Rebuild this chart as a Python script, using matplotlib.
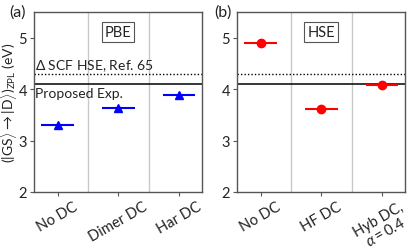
import matplotlib
matplotlib.use("Agg")
import matplotlib.pyplot as plt

plt.rcParams['font.family'] = ['Lato', 'DejaVu Sans']
plt.rcParams['mathtext.fontset'] = 'custom'
plt.rcParams['mathtext.rm'] = 'Lato'
plt.rcParams['mathtext.it'] = 'Lato:italic'
plt.rcParams['mathtext.sf'] = 'Lato'

cats_a = ["No DC", "Dimer DC", "Har DC"]
vals_a = [3.30, 3.63, 3.89]
cats_b = ["No DC", "HF DC", "Hyb DC,\n$\\alpha = 0.4$"]
vals_b = [4.89, 3.62, 4.08]
exp_val = 4.10
dscf_val = 4.30
panel_titles = ["PBE", "HSE"]
panel_labels = ["(a)", "(b)"]

fig = plt.figure(figsize=(4.15, 2.53), dpi=100)
W, H = 415, 253
axes = [fig.add_axes([34/W, 1-193/H, 168/W, 180/H]),
        fig.add_axes([237/W, 1-193/H, 168/W, 180/H])]

spine_c = '#555555'
txt_c = '#222222'
for i, ax in enumerate(axes):
    cats = cats_a if i == 0 else cats_b
    vals = vals_a if i == 0 else vals_b
    col = 'blue' if i == 0 else 'red'
    mk = '^' if i == 0 else 'o'
    x = list(range(len(cats)))
    ax.errorbar(x, vals, xerr=0.27, fmt=mk, color=col, ms=5.5 if i == 0 else 6,
                elinewidth=1.5, capsize=0, zorder=3)
    ax.axhline(exp_val, color='black', lw=1.1, zorder=2)
    ax.axhline(dscf_val, color='black', lw=1.0, ls=(0, (1, 1.5)), zorder=2)
    for xv in [0.5, 1.5]:
        ax.axvline(xv, color='#c8c8c8', lw=1.0, zorder=1)
    ax.set_xlim(-0.39, 2.38)
    ax.set_ylim(2, 5.5)
    ax.set_yticks([2, 3, 4, 5])
    ax.set_xticks(x)
    ax.set_xticklabels(cats, rotation=30, ha='center',
                       fontsize=10, color=txt_c, linespacing=1.0)
    ax.tick_params(axis='both', colors=spine_c, labelcolor=txt_c, labelsize=10.5,
                   length=3, width=0.8, pad=2)
    for s in ax.spines.values():
        s.set_color(spine_c)
        s.set_linewidth(1.0)
    ax.text(0.5, 0.93, panel_titles[i], transform=ax.transAxes, ha='center', va='top',
            fontsize=10.5, color=txt_c,
            bbox=dict(boxstyle='square,pad=0.2', fc='white', ec='#555555', lw=0.8))
    ax.text(-0.05 if i == 0 else -0.03, 1.0, panel_labels[i], transform=ax.transAxes,
            ha='right', va='center', fontsize=11.5, color=txt_c)

axes[0].text(-0.37, dscf_val + 0.01, "$\\Delta$ SCF HSE, Ref. 65", ha='left', va='bottom',
             fontsize=10, color=txt_c)
axes[0].text(-0.37, exp_val - 0.06, "Proposed Exp.", ha='left', va='top',
             fontsize=10, color=txt_c)
axes[0].set_ylabel("$(|\\mathrm{GS}\\rangle \\rightarrow |\\mathrm{D}\\rangle)_{\\mathrm{ZPL}}$ (eV)",
                   fontsize=10, color=txt_c)
axes[0].yaxis.set_label_coords(-0.092, 0.5)

fig.savefig("out.png", dpi=100)
